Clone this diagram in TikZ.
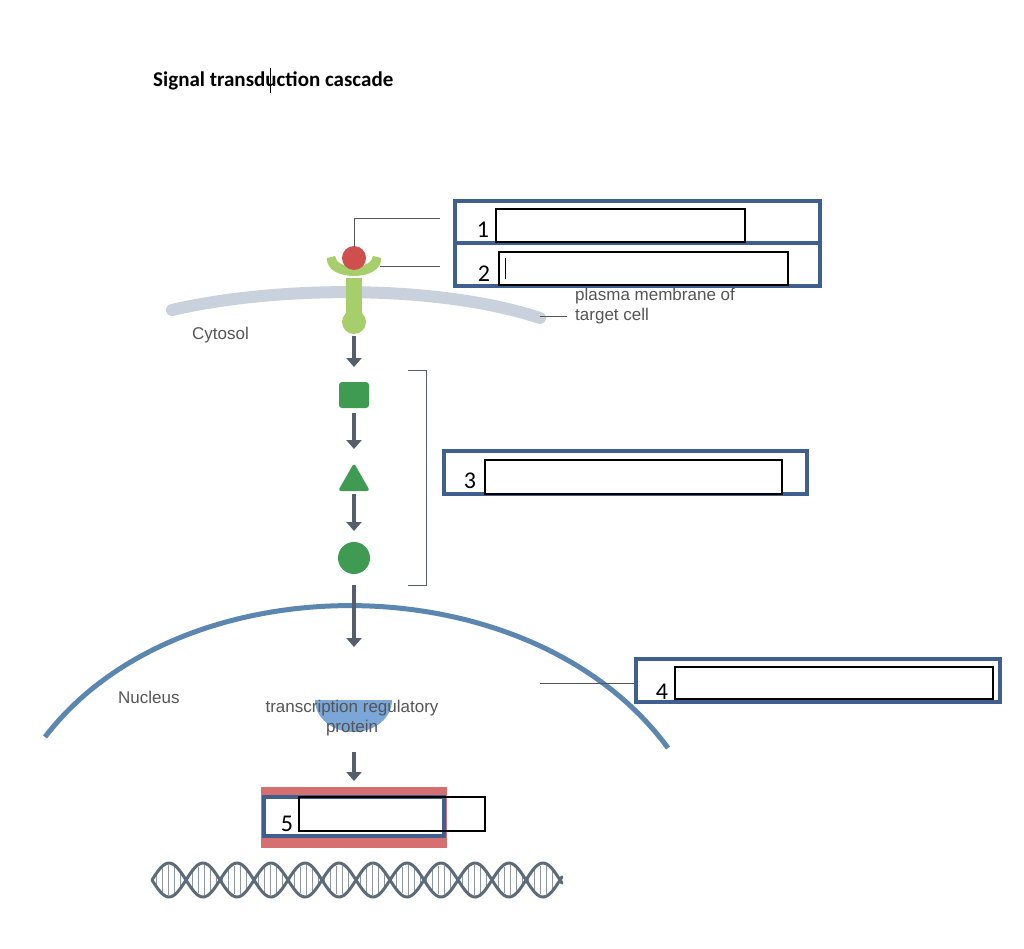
\documentclass[tikz,border=0pt]{standalone}
\usepackage{fontspec}
\setmainfont{Liberation Sans}
\newfontfamily\calib{Carlito}
\usetikzlibrary{arrows.meta}
\definecolor{membr}{HTML}{C9D1DD}
\definecolor{rcpt}{HTML}{A6CF6C}
\definecolor{lig}{HTML}{CF4F4F}
\definecolor{kin}{HTML}{3F9A52}
\definecolor{nucl}{HTML}{5B86B0}
\definecolor{tfac}{HTML}{7AA6D8}
\definecolor{arr}{HTML}{555F6B}
\definecolor{lbl}{HTML}{555555}
\definecolor{boxb}{HTML}{3F5F8F}
\definecolor{gene}{HTML}{D67070}
\definecolor{dna}{HTML}{5D6B78}

\begin{document}
\begin{tikzpicture}[x=1pt,y=-1pt,
  cascade/.style = {draw=arr, line width=4pt, -{Triangle[length=9pt,width=15pt]}},
  lead/.style = {draw=lbl, line width=0.8pt},
  outbox/.style = {draw=boxb, line width=3.5pt},
  inbox/.style = {draw=black, line width=1.8pt, fill=white},
  num/.style = {font=\calib\fontsize{24}{26}\selectfont, inner sep=0, anchor=base},
  lab/.style = {font=\fontsize{17}{20}\selectfont, text=lbl, inner sep=0}]
\useasboundingbox (0,0) rectangle (1024,949);
\node[font=\calib\bfseries\fontsize{21}{24}\selectfont, anchor=base west, inner sep=0] (title) at (153,87) {Signal transduction cascade};
\draw[line width=0.6pt] (270,68) -- (270,93);
% membrane and nucleus
\draw[membr, line width=12pt, line cap=round] (172,310) .. controls (280,285) and (440,285) .. (540,318);
\draw[nucl, line width=5pt] (45,737) .. controls (180,560) and (530,560) .. (668,748);
\node[lab, anchor=base west] (cyto) at (192,339) {Cytosol};
\node[lab, anchor=base west] (nuc) at (118,703) {Nucleus};
\node[lab, anchor=base west, align=left] (pm) at (575,320) {plasma membrane of\\target cell};
\coordinate (pmA) at (540,316); \coordinate (pmB) at (567,316);
\draw[lead] (pmA) -- (pmB);
% receptor
\fill[rcpt] (354,322) circle (12);
\fill[rcpt] (346,278) rectangle (362,318);
\fill[rcpt] (327,258) .. controls (325,282) and (383,282) .. (381,258) -- (373,256) .. controls (372,270) and (336,270) .. (335,256) -- cycle;
\node[circle, fill=lig, minimum size=24pt, inner sep=0] (ligand) at (354,258) {};
% kinases
\node[fill=kin, rounded corners=3pt, minimum width=30pt, minimum height=26pt, inner sep=0] (k1) at (354,395) {};
\fill[kin, rounded corners=3pt] (338,491) -- (354,463) -- (370,491) -- cycle;
\coordinate (k2) at (354,477);
\node[circle, fill=kin, minimum size=32pt, inner sep=0] (k3) at (354,558) {};
\draw[arr, line width=0.8pt] (408,370) -- (426,370) -- (426,585) -- (408,585);
% transcription factor
\fill[tfac] (315,700) arc (180:0:38.5 and 32) -- cycle;
\coordinate (tf) at (354,684);
\node[lab, align=center, anchor=north] (tflab) at (352,700) {transcription regulatory\\protein};
% arrows
\coordinate (a0) at (354,336); \coordinate (a1) at (354,367);
\coordinate (b0) at (354,413); \coordinate (b1) at (354,449);
\coordinate (c0) at (354,494); \coordinate (c1) at (354,531);
\coordinate (d0) at (354,585); \coordinate (d1) at (354,647);
\coordinate (e0) at (354,752); \coordinate (e1) at (354,781);
\foreach \s/\t in {a0/a1,b0/b1,c0/c1,d0/d1,e0/e1} \draw[cascade] (\s) -- (\t);
% leader lines to boxes
\coordinate (l1a) at (354,247); \coordinate (l1b) at (354,218); \coordinate (l1c) at (440,218);
\coordinate (l2a) at (380,266); \coordinate (l2b) at (440,266);
\draw[lead] (l1a) -- (l1b) -- (l1c);
\draw[lead] (l2a) -- (l2b);
\coordinate (l4a) at (540,683); \coordinate (l4b) at (636,683);
\draw[lead] (l4a) -- (l4b);
% answer boxes
\draw[outbox] (455,201) rectangle (820,286);
\draw[outbox] (455,243) -- (820,243);
\draw[inbox] (496,209) rectangle (745,242);
\draw[inbox] (499,252) rectangle (788,285);
\draw[line width=0.6pt] (505,258) -- (505,279);
\node[num] (n1) at (483,238) {1};
\node[num] (n2) at (484,281) {2};
\draw[outbox] (444,451) rectangle (807,494);
\draw[inbox] (485,460) rectangle (782,494);
\node[num] (n3) at (470,488) {3};
\draw[outbox] (636,659) rectangle (1000,702);
\draw[inbox] (675,667) rectangle (993,699);
\node[num] (n4) at (662,699) {4};
% gene
\fill[gene] (261,787) rectangle (447,848);
\draw[outbox, fill=white] (264,797) rectangle (444,836);
\draw[inbox, fill=none] (299,797) rectangle (485,831);
\node[num] (n5) at (287,831) {5};
% DNA
\foreach \x in {156,162,...,558}
  \draw[dna!70, line width=1pt] (\x,{880+15*sin((\x-152)*5.294)}) -- (\x,{880-15*sin((\x-152)*5.294)});
\draw[dna, line width=3pt, line cap=round] plot[domain=152:562, samples=200] (\x,{880+17*sin((\x-152)*5.294)});
\draw[dna, line width=3pt, line cap=round] plot[domain=152:562, samples=200] (\x,{880-17*sin((\x-152)*5.294)});
\end{tikzpicture}
\end{document}
